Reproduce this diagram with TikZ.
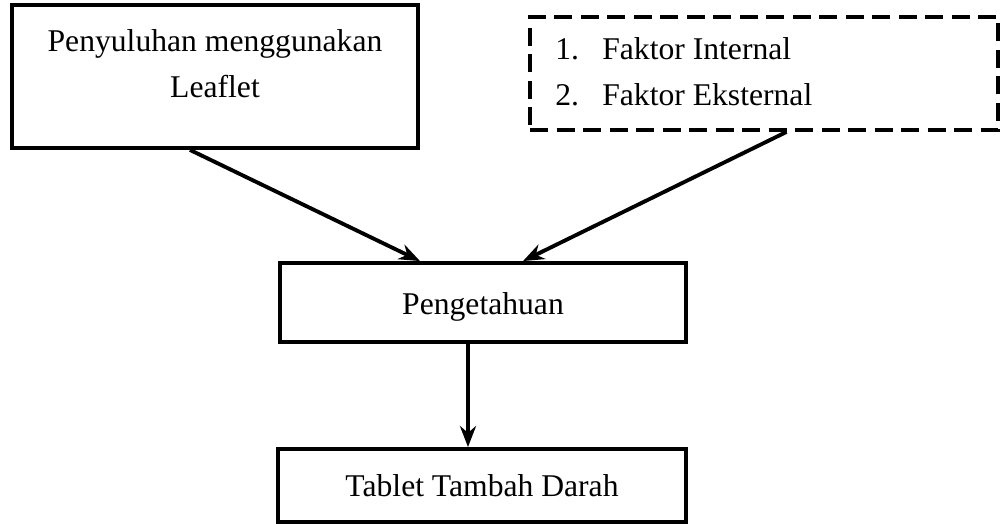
\documentclass[tikz,border=0pt]{standalone}
\usepackage{fontspec}
\setmainfont{Liberation Serif}
\usepackage{tikz}
\usetikzlibrary{arrows.meta,positioning}

\begin{document}
\begin{tikzpicture}[
        box/.style    = {draw, line width=2.2pt, rectangle},
        dashbox/.style= {draw, line width=2.2pt, rectangle, dash pattern=on 0.36cm off 0.17cm},
        txt/.style    = {inner sep=0pt, font=\fontsize{18}{26}\selectfont},
        arrow/.style  = {line width=2.2pt, -{Stealth[length=0.42cm,width=0.32cm]}}
    ]
        \useasboundingbox (0,0) rectangle (20,10.48);

        \node[box, minimum width=8.12cm, minimum height=2.86cm]     (leaflet)     at (4.30,8.95) {};
        \node[dashbox, minimum width=9.36cm, minimum height=2.26cm] (faktor)      at (15.28,9.01) {};
        \node[box, minimum width=8.12cm, minimum height=1.58cm, txt,
              text height=0.63cm, text depth=0.14cm]                 (pengetahuan) at (9.66,4.43) {Pengetahuan};
        \node[box, minimum width=8.16cm, minimum height=1.46cm, txt] (ttd)         at (9.64,0.77) {Tablet Tambah Darah};

        \node[txt, align=center, below=0.52cm of leaflet.north] (leaflet_t)
            {Penyuluhan menggunakan\\Leaflet};
        \node[txt, align=left, anchor=north west, font=\fontsize{18}{26.5}\selectfont] (faktor_t) at (11.10,9.74)
            {\makebox[0.94cm][l]{1.}Faktor Internal\\\makebox[0.94cm][l]{2.}Faktor Eksternal};

        \path[arrow]
        ([xshift=-0.50cm]leaflet.south)
        edge ([xshift=-1.26cm]pengetahuan.north)

        ([xshift=0.45cm]faktor.south)
        edge ([xshift=0.80cm]pengetahuan.north)

        ([xshift=-0.30cm]pengetahuan.south)
        edge ([xshift=-0.28cm]ttd.north);

    \end{tikzpicture}
\end{document}
